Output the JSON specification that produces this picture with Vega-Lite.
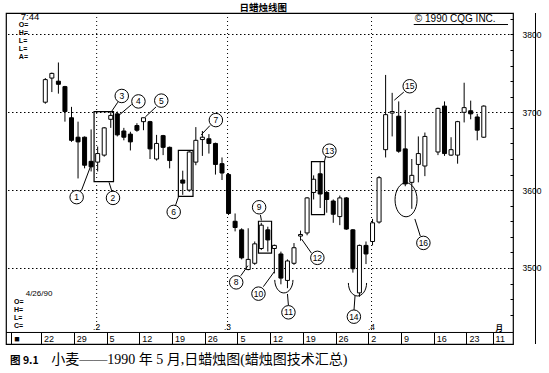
{
  "$schema": "https://vega.github.io/schema/vega-lite/v6.json",
  "width": 507,
  "height": 331,
  "autosize": {"type": "none"},
  "padding": {"left": 6, "top": 13, "right": 36, "bottom": 29},
  "background": "white",
  "config": {
    "view": {"stroke": "black", "strokeWidth": 1.2},
    "text": {"color": "black"}
  },
  "datasets": {
    "candles": [
      {"date": "1990-01-22", "day": 0, "open": 3713, "high": 3744, "low": 3711, "close": 3742},
      {"date": "1990-01-23", "day": 1, "open": 3744, "high": 3751, "low": 3726, "close": 3750},
      {"date": "1990-01-24", "day": 2, "open": 3740, "high": 3764, "low": 3724, "close": 3736},
      {"date": "1990-01-25", "day": 3, "open": 3733, "high": 3734, "low": 3688, "close": 3701},
      {"date": "1990-01-26", "day": 4, "open": 3693, "high": 3707, "low": 3662, "close": 3664},
      {"date": "1990-01-29", "day": 5, "open": 3668, "high": 3688, "low": 3615, "close": 3662},
      {"date": "1990-01-30", "day": 6, "open": 3668, "high": 3669, "low": 3628, "close": 3632},
      {"date": "1990-01-31", "day": 7, "open": 3637, "high": 3678, "low": 3624, "close": 3630},
      {"date": "1990-02-01", "day": 8, "open": 3636, "high": 3656, "low": 3624, "close": 3647},
      {"date": "1990-02-02", "day": 9, "open": 3645, "high": 3681, "low": 3643, "close": 3680},
      {"date": "1990-02-05", "day": 10, "open": 3691, "high": 3700, "low": 3680, "close": 3696},
      {"date": "1990-02-06", "day": 11, "open": 3698, "high": 3701, "low": 3669, "close": 3671},
      {"date": "1990-02-07", "day": 12, "open": 3676, "high": 3680, "low": 3664, "close": 3668},
      {"date": "1990-02-08", "day": 13, "open": 3672, "high": 3675, "low": 3651, "close": 3662},
      {"date": "1990-02-09", "day": 14, "open": 3683, "high": 3686, "low": 3675, "close": 3677},
      {"date": "1990-02-12", "day": 15, "open": 3688, "high": 3693, "low": 3677, "close": 3693},
      {"date": "1990-02-13", "day": 16, "open": 3688, "high": 3689, "low": 3640, "close": 3653},
      {"date": "1990-02-14", "day": 17, "open": 3640, "high": 3671, "low": 3638, "close": 3660},
      {"date": "1990-02-15", "day": 18, "open": 3670, "high": 3671, "low": 3645, "close": 3655},
      {"date": "1990-02-16", "day": 19, "open": 3655, "high": 3656, "low": 3628, "close": 3638},
      {"date": "1990-02-20", "day": 21, "open": 3613, "high": 3625, "low": 3594, "close": 3609},
      {"date": "1990-02-21", "day": 22, "open": 3600, "high": 3650, "low": 3598, "close": 3649},
      {"date": "1990-02-22", "day": 23, "open": 3636, "high": 3681, "low": 3632, "close": 3664},
      {"date": "1990-02-23", "day": 24, "open": 3665, "high": 3676, "low": 3644, "close": 3668},
      {"date": "1990-02-26", "day": 25, "open": 3666, "high": 3672, "low": 3647, "close": 3660},
      {"date": "1990-02-27", "day": 26, "open": 3660, "high": 3661, "low": 3620, "close": 3633},
      {"date": "1990-02-28", "day": 27, "open": 3634, "high": 3642, "low": 3613, "close": 3622},
      {"date": "1990-03-01", "day": 28, "open": 3620, "high": 3622, "low": 3568, "close": 3570},
      {"date": "1990-03-02", "day": 29, "open": 3560, "high": 3570, "low": 3547, "close": 3552},
      {"date": "1990-03-05", "day": 30, "open": 3549, "high": 3551, "low": 3511, "close": 3513},
      {"date": "1990-03-06", "day": 31, "open": 3498, "high": 3551, "low": 3497, "close": 3511},
      {"date": "1990-03-07", "day": 32, "open": 3506, "high": 3534, "low": 3504, "close": 3531},
      {"date": "1990-03-08", "day": 33, "open": 3525, "high": 3558, "low": 3523, "close": 3555},
      {"date": "1990-03-09", "day": 34, "open": 3549, "high": 3553, "low": 3521, "close": 3536},
      {"date": "1990-03-12", "day": 35, "open": 3525, "high": 3530, "low": 3493, "close": 3529},
      {"date": "1990-03-13", "day": 36, "open": 3518, "high": 3521, "low": 3479, "close": 3487},
      {"date": "1990-03-14", "day": 37, "open": 3484, "high": 3511, "low": 3474, "close": 3509},
      {"date": "1990-03-15", "day": 38, "open": 3506, "high": 3532, "low": 3504, "close": 3526},
      {"date": "1990-03-16", "day": 39, "open": 3541, "high": 3548, "low": 3535, "close": 3543},
      {"date": "1990-03-19", "day": 40, "open": 3545, "high": 3591, "low": 3542, "close": 3590},
      {"date": "1990-03-20", "day": 41, "open": 3597, "high": 3619, "low": 3588, "close": 3614},
      {"date": "1990-03-21", "day": 42, "open": 3621, "high": 3636, "low": 3577, "close": 3595},
      {"date": "1990-03-22", "day": 43, "open": 3597, "high": 3599, "low": 3571, "close": 3588},
      {"date": "1990-03-23", "day": 44, "open": 3586, "high": 3588, "low": 3558, "close": 3569},
      {"date": "1990-03-26", "day": 45, "open": 3566, "high": 3593, "low": 3555, "close": 3590},
      {"date": "1990-03-27", "day": 46, "open": 3590, "high": 3591, "low": 3549, "close": 3550},
      {"date": "1990-03-28", "day": 47, "open": 3549, "high": 3550, "low": 3494, "close": 3499},
      {"date": "1990-03-29", "day": 48, "open": 3468, "high": 3530, "low": 3463, "close": 3529},
      {"date": "1990-03-30", "day": 49, "open": 3529, "high": 3534, "low": 3505, "close": 3518},
      {"date": "1990-04-02", "day": 50, "open": 3534, "high": 3563, "low": 3529, "close": 3558},
      {"date": "1990-04-03", "day": 51, "open": 3559, "high": 3618, "low": 3557, "close": 3616},
      {"date": "1990-04-04", "day": 52, "open": 3652, "high": 3748, "low": 3642, "close": 3697},
      {"date": "1990-04-05", "day": 53, "open": 3699, "high": 3725, "low": 3669, "close": 3701},
      {"date": "1990-04-06", "day": 54, "open": 3695, "high": 3714, "low": 3648, "close": 3650},
      {"date": "1990-04-09", "day": 55, "open": 3653, "high": 3703, "low": 3605, "close": 3608},
      {"date": "1990-04-10", "day": 56, "open": 3610, "high": 3640, "low": 3576, "close": 3619},
      {"date": "1990-04-11", "day": 57, "open": 3633, "high": 3669, "low": 3610, "close": 3647},
      {"date": "1990-04-12", "day": 58, "open": 3631, "high": 3674, "low": 3618, "close": 3669},
      {"date": "1990-04-16", "day": 60, "open": 3649, "high": 3706, "low": 3645, "close": 3705},
      {"date": "1990-04-17", "day": 61, "open": 3708, "high": 3714, "low": 3644, "close": 3647},
      {"date": "1990-04-18", "day": 62, "open": 3645, "high": 3668, "low": 3644, "close": 3652},
      {"date": "1990-04-19", "day": 63, "open": 3645, "high": 3689, "low": 3634, "close": 3688},
      {"date": "1990-04-20", "day": 64, "open": 3700, "high": 3738, "low": 3687, "close": 3706},
      {"date": "1990-04-23", "day": 65, "open": 3702, "high": 3715, "low": 3691, "close": 3698},
      {"date": "1990-04-24", "day": 66, "open": 3694, "high": 3698, "low": 3664, "close": 3677},
      {"date": "1990-04-25", "day": 67, "open": 3668, "high": 3709, "low": 3667, "close": 3708}
    ],
    "months": [
      {"label": ".2", "first": 8},
      {"label": ".3", "first": 28},
      {"label": ".4", "first": 50}
    ],
    "notes": [
      {"n": "1", "day": 4.79, "price": 3591},
      {"n": "2", "day": 10.34, "price": 3590},
      {"n": "3", "day": 11.68, "price": 3721},
      {"n": "4", "day": 14.23, "price": 3714},
      {"n": "5", "day": 17.72, "price": 3715},
      {"n": "6", "day": 19.62, "price": 3572},
      {"n": "7", "day": 26.06, "price": 3690},
      {"n": "8", "day": 29.17, "price": 3481.5},
      {"n": "9", "day": 32.67, "price": 3578},
      {"n": "10", "day": 32.57, "price": 3467},
      {"n": "11", "day": 37.15, "price": 3443},
      {"n": "12", "day": 41.57, "price": 3513},
      {"n": "13", "day": 43.41, "price": 3650.7},
      {"n": "14", "day": 47.15, "price": 3437.4},
      {"n": "15", "day": 55.68, "price": 3733.5},
      {"n": "16", "day": 57.77, "price": 3532.2}
    ],
    "arrows": [
      {"day": 5.54, "price": 3600, "day2": 6.89, "price2": 3630},
      {"day": 9.74, "price": 3610, "day2": 10.19, "price2": 3598},
      {"day": 11.08, "price": 3713, "day2": 10.04, "price2": 3700},
      {"day": 13.18, "price": 3710, "day2": 11.23, "price2": 3696},
      {"day": 16.93, "price": 3707, "day2": 15.28, "price2": 3694},
      {"day": 20.37, "price": 3592, "day2": 19.92, "price2": 3581},
      {"day": 25.16, "price": 3683, "day2": 23.82, "price2": 3671},
      {"day": 29.87, "price": 3490, "day2": 30.97, "price2": 3503},
      {"day": 32.87, "price": 3568, "day2": 33.02, "price2": 3561},
      {"day": 33.32, "price": 3476, "day2": 34.97, "price2": 3495},
      {"day": 37.15, "price": 3451.8, "day2": 37.0, "price2": 3466.6},
      {"day": 40.67, "price": 3519, "day2": 39.17, "price2": 3537},
      {"day": 42.66, "price": 3637, "day2": 42.85, "price2": 3644},
      {"day": 47.17, "price": 3446.1, "day2": 47.33, "price2": 3464.6},
      {"day": 54.78, "price": 3726, "day2": 53.33, "price2": 3715.6},
      {"day": 56.47, "price": 3563, "day2": 57.3, "price2": 3541}
    ],
    "boxes": [
      {"n": "2", "from": 7.45, "to": 10.42, "top": 3701, "bottom": 3611},
      {"n": "6", "from": 20.33, "to": 22.57, "top": 3651, "bottom": 3592},
      {"n": "9", "from": 32.57, "to": 34.57, "top": 3560, "bottom": 3519},
      {"n": "13", "from": 40.67, "to": 42.66, "top": 3636.6, "bottom": 3568.5}
    ],
    "arcs": [
      {"n": "11", "day": 36.45, "price": 3484.6},
      {"n": "14", "day": 47.7, "price": 3480.7}
    ],
    "ellipses": [
      {"n": "16", "day": 55.12, "price": 3587.6}
    ]
  },
  "layer": [
    {
      "data": {"name": "candles"},
      "mark": {"type": "rule", "color": "black", "strokeWidth": 1},
      "encoding": {
        "x": {"field": "day", "type": "quantitative", "scale": {"domain": [-5.243, 70.7], "nice": false, "zero": false},
          "axis": {
            "orient": "bottom",
            "values": [-5.2, -0.65, 4.35, 9.35, 14.35, 19.35, 24.35, 29.35, 34.35, 39.35, 44.35, 49.35, 54.35, 59.35, 64.35, 68.35],
            "tickCount": 100,
            "labelExpr": "['■','22','29','5','12','19','26','5','12','19','26','2','9','16','23','11'][indexof([-5.2,-0.65,4.35,9.35,14.35,19.35,24.35,29.35,34.35,39.35,44.35,49.35,54.35,59.35,64.35,68.35], datum.value)]",
            "domain": false, "grid": false,
            "tickSize": -11.5, "tickColor": "black", "tickWidth": 1,
            "labelAlign": "left", "labelBaseline": "middle", "labelPadding": 6, "labelOffset": 2.5,
            "labelFont": "Liberation Sans", "labelFontSize": 9, "labelColor": "black",
            "labelFlush": false, "labelOverlap": false, "labelBound": false, "labelSeparation": 0,
            "title": null
          }
        },
        "y": {"field": "low", "type": "quantitative", "scale": {"domain": [3402.3, 3827.6], "nice": false, "zero": false},
          "axis": {
            "orient": "right",
            "values": [3440, 3460, 3480, 3500, 3520, 3540, 3560, 3580, 3600, 3620, 3640, 3660, 3680, 3700, 3720, 3740, 3760, 3780, 3800, 3820],
            "tickCount": 100,
            "format": "d",
            "labelExpr": "datum.value % 100 === 0 ? datum.label : ''",
            "domain": false,
            "grid": true, "gridColor": "black", "gridWidth": 1, "gridDash": [1.5, 2.5],
            "gridOpacity": {"condition": {"test": "datum.value % 100 === 0", "value": 1}, "value": 0},
            "tickSize": -3, "tickColor": "black", "tickWidth": 1,
            "labelPadding": 12, "labelFont": "Liberation Sans", "labelFontSize": 8.5, "labelColor": "black",
            "labelBaseline": "middle", "labelOverlap": false, "labelBound": false, "labelFlush": false,
            "title": null
          }
        },
        "y2": {"field": "high"}
      }
    },
    {
      "data": {"name": "months"},
      "mark": {"type": "rule", "color": "black", "strokeWidth": 1, "strokeDash": [1, 3], "xOffset": -1},
      "encoding": {
        "x": {"field": "first", "type": "quantitative", "scale": {"domain": [-5.243, 70.7], "nice": false, "zero": false}},
        "y": {"datum": 3827.6, "type": "quantitative", "scale": {"domain": [3402.3, 3827.6], "nice": false, "zero": false}},
        "y2": {"datum": 3417.1}
      }
    },
    {
      "data": {"values": [{}]},
      "mark": {"type": "rule", "color": "black", "strokeWidth": 1},
      "encoding": {
        "y": {"datum": 3417.1, "type": "quantitative", "scale": {"domain": [3402.3, 3827.6], "nice": false, "zero": false}}
      }
    },
    {
      "data": {"values": [{}]},
      "mark": {"type": "rule", "color": "black", "strokeWidth": 1},
      "encoding": {
        "x": {"datum": 74.9, "type": "quantitative", "scale": {"domain": [-5.243, 70.7], "nice": false, "zero": false}},
        "y": {"datum": 3827.6, "type": "quantitative", "scale": {"domain": [3402.3, 3827.6], "nice": false, "zero": false}},
        "y2": {"datum": 3402.3}
      }
    },
    {
      "data": {"name": "candles"},
      "mark": {"type": "bar", "size": 4, "stroke": "black", "strokeWidth": 1},
      "encoding": {
        "x": {"field": "day", "type": "quantitative", "scale": {"domain": [-5.243, 70.7], "nice": false, "zero": false}},
        "y": {"field": "open", "type": "quantitative", "scale": {"domain": [3402.3, 3827.6], "nice": false, "zero": false}},
        "y2": {"field": "close"},
        "fill": {"condition": {"test": "datum.close >= datum.open", "value": "white"}, "value": "black"}
      }
    },
    {
      "data": {"name": "boxes"},
      "mark": {"type": "rect", "fill": null, "fillOpacity": 0, "stroke": "black", "strokeWidth": 1.2},
      "encoding": {
        "x": {"field": "from", "type": "quantitative", "scale": {"domain": [-5.243, 70.7], "nice": false, "zero": false}},
        "x2": {"field": "to"},
        "y": {"field": "top", "type": "quantitative", "scale": {"domain": [3402.3, 3827.6], "nice": false, "zero": false}},
        "y2": {"field": "bottom"}
      }
    },
    {
      "data": {"name": "arcs"},
      "mark": {"type": "point", "shape": "M-0.7,0A0.7,1 0 0 0 0.7,0", "size": 676, "filled": false, "stroke": "black", "strokeWidth": 1, "opacity": 1},
      "encoding": {
        "x": {"field": "day", "type": "quantitative", "scale": {"domain": [-5.243, 70.7], "nice": false, "zero": false}},
        "y": {"field": "price", "type": "quantitative", "scale": {"domain": [3402.3, 3827.6], "nice": false, "zero": false}}
      }
    },
    {
      "data": {"name": "ellipses"},
      "mark": {"type": "point", "shape": "M0,-1A0.647,1 0 1 1 0,1A0.647,1 0 1 1 0,-1Z", "size": 1156, "filled": false, "stroke": "black", "strokeWidth": 1, "opacity": 1},
      "encoding": {
        "x": {"field": "day", "type": "quantitative", "scale": {"domain": [-5.243, 70.7], "nice": false, "zero": false}},
        "y": {"field": "price", "type": "quantitative", "scale": {"domain": [3402.3, 3827.6], "nice": false, "zero": false}}
      }
    },
    {
      "data": {"name": "arrows"},
      "mark": {"type": "rule", "color": "black", "strokeWidth": 1},
      "encoding": {
        "x": {"field": "day", "type": "quantitative", "scale": {"domain": [-5.243, 70.7], "nice": false, "zero": false}},
        "x2": {"field": "day2"},
        "y": {"field": "price", "type": "quantitative", "scale": {"domain": [3402.3, 3827.6], "nice": false, "zero": false}},
        "y2": {"field": "price2"}
      }
    },
    {
      "data": {"name": "notes"},
      "mark": {"type": "point", "shape": "circle", "size": 182, "filled": true, "fill": "white", "stroke": "black", "strokeWidth": 1, "opacity": 1, "fillOpacity": 1},
      "encoding": {
        "x": {"field": "day", "type": "quantitative", "scale": {"domain": [-5.243, 70.7], "nice": false, "zero": false}},
        "y": {"field": "price", "type": "quantitative", "scale": {"domain": [3402.3, 3827.6], "nice": false, "zero": false}}
      }
    },
    {
      "data": {"name": "notes"},
      "mark": {"type": "text", "font": "Liberation Sans", "fontSize": 8.5, "align": "center", "baseline": "middle", "color": "black"},
      "encoding": {
        "x": {"field": "day", "type": "quantitative", "scale": {"domain": [-5.243, 70.7], "nice": false, "zero": false}},
        "y": {"field": "price", "type": "quantitative", "scale": {"domain": [3402.3, 3827.6], "nice": false, "zero": false}},
        "text": {"field": "n"}
      }
    },
    {
      "data": {"name": "months"},
      "mark": {"type": "text", "font": "Liberation Sans", "fontSize": 8.5, "align": "center", "baseline": "middle", "color": "black", "xOffset": -1},
      "encoding": {
        "x": {"field": "first", "type": "quantitative", "scale": {"domain": [-5.243, 70.7], "nice": false, "zero": false}},
        "y": {"datum": 3424, "type": "quantitative", "scale": {"domain": [3402.3, 3827.6], "nice": false, "zero": false}},
        "text": {"field": "label"}
      }
    },
    {
      "data": {"values": [{}]},
      "mark": {"type": "text", "font": "Noto Sans CJK SC", "fontSize": 9.5, "fontWeight": "bold", "align": "center", "baseline": "alphabetic", "color": "black"},
      "encoding": {
        "x": {"datum": 33.3, "type": "quantitative", "scale": {"domain": [-5.243, 70.7], "nice": false, "zero": false}},
        "y": {"datum": 3829.8, "type": "quantitative", "scale": {"domain": [3402.3, 3827.6], "nice": false, "zero": false}},
        "text": {"value": "日蜡烛线图"}
      }
    },
    {
      "data": {"values": [{}]},
      "mark": {"type": "text", "font": "Liberation Sans", "fontSize": 9.5, "align": "left", "baseline": "middle", "color": "black"},
      "encoding": {
        "x": {"datum": -3.74, "type": "quantitative", "scale": {"domain": [-5.243, 70.7], "nice": false, "zero": false}},
        "y": {"datum": 3822.5, "type": "quantitative", "scale": {"domain": [3402.3, 3827.6], "nice": false, "zero": false}},
        "text": {"value": "7:44"}
      }
    },
    {
      "data": {"values": [{}]},
      "mark": {"type": "text", "font": "Liberation Sans", "fontSize": 10, "align": "left", "baseline": "middle", "color": "black"},
      "encoding": {
        "x": {"datum": 56.47, "type": "quantitative", "scale": {"domain": [-5.243, 70.7], "nice": false, "zero": false}},
        "y": {"datum": 3819.5, "type": "quantitative", "scale": {"domain": [3402.3, 3827.6], "nice": false, "zero": false}},
        "text": {"value": "©  1990  CQG  INC."}
      }
    },
    {
      "data": {"values": [{}]},
      "mark": {"type": "rule", "color": "black", "strokeWidth": 1},
      "encoding": {
        "x": {"datum": 56.3, "type": "quantitative", "scale": {"domain": [-5.243, 70.7], "nice": false, "zero": false}},
        "x2": {"datum": 70.7},
        "y": {"datum": 3812.8, "type": "quantitative", "scale": {"domain": [3402.3, 3827.6], "nice": false, "zero": false}}
      }
    },
    {
      "data": {"values": [{}]},
      "mark": {"type": "text", "font": "Liberation Sans", "fontSize": 7, "fontWeight": "bold", "align": "left", "baseline": "top", "lineHeight": 8.1, "color": "black"},
      "encoding": {
        "x": {"datum": -4.04, "type": "quantitative", "scale": {"domain": [-5.243, 70.7], "nice": false, "zero": false}},
        "y": {"datum": 3817.3, "type": "quantitative", "scale": {"domain": [3402.3, 3827.6], "nice": false, "zero": false}},
        "text": {"value": ["O=", "H=", "L=", "L=", "A="]}
      }
    },
    {
      "data": {"values": [{}]},
      "mark": {"type": "text", "font": "Liberation Sans", "fontSize": 7, "fontWeight": "bold", "align": "left", "baseline": "top", "lineHeight": 7.8, "color": "black"},
      "encoding": {
        "x": {"datum": -4.79, "type": "quantitative", "scale": {"domain": [-5.243, 70.7], "nice": false, "zero": false}},
        "y": {"datum": 3460.8, "type": "quantitative", "scale": {"domain": [3402.3, 3827.6], "nice": false, "zero": false}},
        "text": {"value": ["O=", "H=", "L=", "C="]}
      }
    },
    {
      "data": {"values": [{}]},
      "mark": {"type": "text", "font": "Liberation Sans", "fontSize": 8, "align": "left", "baseline": "middle", "color": "black"},
      "encoding": {
        "x": {"datum": -3.0, "type": "quantitative", "scale": {"domain": [-5.243, 70.7], "nice": false, "zero": false}},
        "y": {"datum": 3466.6, "type": "quantitative", "scale": {"domain": [3402.3, 3827.6], "nice": false, "zero": false}},
        "text": {"value": "4/26/90"}
      }
    },
    {
      "data": {"values": [{}]},
      "mark": {"type": "text", "font": "Noto Sans CJK SC", "fontSize": 7.5, "fontWeight": "bold", "align": "center", "baseline": "middle", "color": "black"},
      "encoding": {
        "x": {"datum": 69.35, "type": "quantitative", "scale": {"domain": [-5.243, 70.7], "nice": false, "zero": false}},
        "y": {"datum": 3421.5, "type": "quantitative", "scale": {"domain": [3402.3, 3827.6], "nice": false, "zero": false}},
        "text": {"value": "月"}
      }
    },
    {
      "data": {"values": [{}]},
      "mark": {"type": "text", "font": "Noto Sans CJK SC", "fontSize": 10.5, "fontWeight": "bold", "align": "left", "baseline": "alphabetic", "color": "black"},
      "encoding": {
        "x": {"datum": -5.39, "type": "quantitative", "scale": {"domain": [-5.243, 70.7], "nice": false, "zero": false}},
        "y": {"datum": 3377, "type": "quantitative", "scale": {"domain": [3402.3, 3827.6], "nice": false, "zero": false}},
        "text": {"value": "图 9.1"}
      }
    },
    {
      "data": {"values": [{}]},
      "mark": {"type": "text", "font": "Liberation Serif, Noto Sans CJK SC", "fontSize": 14, "align": "left", "baseline": "alphabetic", "color": "black"},
      "encoding": {
        "x": {"datum": 0.9, "type": "quantitative", "scale": {"domain": [-5.243, 70.7], "nice": false, "zero": false}},
        "y": {"datum": 3377, "type": "quantitative", "scale": {"domain": [3402.3, 3827.6], "nice": false, "zero": false}},
        "text": {"value": "小麦——1990 年 5 月,日蜡烛图(蜡烛图技术汇总)"}
      }
    }
  ]
}
